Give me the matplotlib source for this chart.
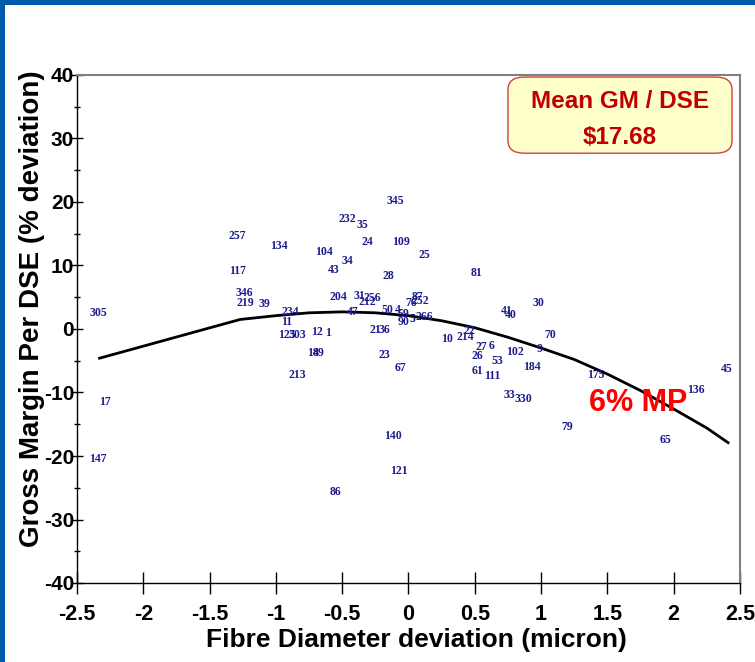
import matplotlib
matplotlib.use("Agg")
import matplotlib.pyplot as plt
from matplotlib.patches import Rectangle, FancyBboxPatch

plt.rcParams["axes.unicode_minus"] = False

# ---- data ----
labels = ["305", "17", "147", "257", "134", "117", "346", "219", "39", "234",
          "11", "125", "303", "12", "1", "18", "49", "213", "345", "232",
          "35", "24", "109", "104", "34", "43", "25", "28", "81", "204",
          "31", "256", "212", "47", "50", "4", "59", "90", "5", "76",
          "87", "252", "266", "21", "36", "23", "67", "10", "214", "22",
          "27", "6", "26", "53", "102", "61", "111", "41", "40", "30",
          "70", "9", "184", "33", "330", "175", "79", "45", "136", "65",
          "140", "121", "86"]
fd_dev = [-2.34, -2.29, -2.34, -1.29, -0.98, -1.29, -1.24, -1.23, -1.09, -0.89,
          -0.92, -0.92, -0.84, -0.69, -0.61, -0.72, -0.68, -0.84, -0.10, -0.46,
          -0.35, -0.31, -0.06, -0.64, -0.46, -0.56, 0.12, -0.15, 0.51, -0.53,
          -0.37, -0.27, -0.31, -0.42, -0.16, -0.08, -0.04, -0.04, 0.03, 0.02,
          0.07, 0.09, 0.12, -0.25, -0.18, -0.18, -0.06, 0.29, 0.43, 0.46,
          0.55, 0.63, 0.52, 0.67, 0.80, 0.52, 0.63, 0.74, 0.77, 0.98,
          1.07, 0.99, 0.93, 0.76, 0.87, 1.41, 1.20, 2.40, 2.17, 1.94,
          -0.12, -0.07, -0.55]
gm_dev = [2.5, -11.5, -20.5, 14.7, 13.1, 9.2, 5.7, 4.1, 3.9, 2.7,
          1.1, -0.9, -0.9, -0.5, -0.6, -3.8, -3.8, -7.3, 20.2, 17.4,
          16.3, 13.7, 13.7, 12.2, 10.7, 9.3, 11.7, 8.4, 8.8, 5.1,
          5.2, 4.9, 4.3, 2.7, 3.0, 3.0, 2.4, 1.1, 1.6, 4.1,
          5.1, 4.4, 1.9, -0.2, -0.2, -4.1, -6.2, -1.6, -1.3, -0.3,
          -2.8, -2.7, -4.3, -5.1, -3.6, -6.6, -7.4, 2.8, 2.2, 4.1,
          -0.9, -3.2, -6.0, -10.4, -11.1, -7.3, -15.5, -6.3, -9.6, -17.5,
          -16.9, -22.4, -25.6]

curve_x = [-2.33, -1.27, -1.0, -0.75, -0.5, -0.25, 0.0, 0.25, 0.5, 0.75,
           1.0, 1.25, 1.5, 1.75, 2.0, 2.25, 2.41]
curve_y = [-4.6, 1.5, 2.1, 2.55, 2.7, 2.55, 2.1, 1.3, 0.2, -1.3,
           -3.0, -4.8, -7.1, -9.7, -12.6, -15.6, -17.9]

x_ticks = [-2.5, -2, -1.5, -1, -0.5, 0, 0.5, 1, 1.5, 2, 2.5]
x_tick_labels = ["-2.5", "-2", "-1.5", "-1", "-0.5", "0", "0.5", "1", "1.5", "2", "2.5"]
y_ticks = [-40, -30, -20, -10, 0, 10, 20, 30, 40]

# ---- figure ----
W, H = 755, 662
fig = plt.figure(figsize=(W / 100, H / 100), dpi=100)
fig.patch.set_facecolor("white")

# blue frame
fig.add_artist(Rectangle((0, 1 - 5 / H), 1, 5 / H, transform=fig.transFigure,
                         facecolor="#005BAC", edgecolor="none"))
fig.add_artist(Rectangle((0, 0), 5 / W, 1, transform=fig.transFigure,
                         facecolor="#005BAC", edgecolor="none"))

ax = fig.add_axes([77 / W, (H - 583) / H, (740 - 77) / W, (583 - 75) / H])
ax.set_xlim(-2.5, 2.5)
ax.set_ylim(-40, 40)

for s in ["top", "right"]:
    ax.spines[s].set_color("#808080")
    ax.spines[s].set_linewidth(1.5)
for s in ["left", "bottom"]:
    ax.spines[s].set_color("black")
    ax.spines[s].set_linewidth(1.0)

ax.set_xticks(x_ticks)
ax.set_xticklabels(x_tick_labels)
ax.set_yticks(y_ticks)
ax.set_yticks([-35, -25, -15, -5, 5, 15, 25, 35], minor=True)
ax.tick_params(axis="x", direction="inout", length=16, width=1, pad=7,
               labelsize=15.5, top=False)
ax.tick_params(axis="y", which="major", direction="inout", length=8, width=1,
               pad=-2, labelsize=15, right=False)
ax.tick_params(axis="y", which="minor", direction="inout", length=4, width=1,
               right=False)
for lab in ax.get_xticklabels() + ax.get_yticklabels():
    lab.set_fontfamily("Liberation Sans")
    lab.set_fontweight("bold")

fig.text(416 / W, 1 - 640 / H, "Fibre Diameter deviation (micron)",
         ha="center", va="center", fontsize=19, fontweight="bold",
         fontfamily="Liberation Sans")
fig.text(32 / W, 1 - 309 / H, "Gross Margin Per DSE (% deviation)",
         ha="center", va="center", rotation=90, fontsize=20,
         fontweight="bold", fontfamily="Liberation Sans")

# curve
ax.plot(curve_x, curve_y, color="black", linewidth=2.0, zorder=2)

# point labels
for lab, xv, yv in zip(labels, fd_dev, gm_dev):
    ax.text(xv, yv, lab, ha="center", va="center", fontsize=8.5,
            fontweight="bold", fontfamily="Liberation Serif",
            color="#1C1C8C", zorder=3)

# 6% MP annotation
ax.text(1.73, -11.7, "6% MP", ha="center", va="center", fontsize=22,
        fontweight="bold", fontfamily="Liberation Sans", color="#FF0000",
        zorder=4)

# Mean GM box
box = FancyBboxPatch((0.650, 0.846), 0.338, 0.150,
                     boxstyle="round,pad=0,rounding_size=0.025",
                     transform=ax.transAxes, facecolor="#FFFFCC",
                     edgecolor="#D04040", linewidth=1.0, zorder=5)
ax.add_patch(box)
ax.text(0.819, 0.947, "Mean GM / DSE", transform=ax.transAxes, ha="center",
        va="center", fontsize=17.5, fontweight="bold",
        fontfamily="Liberation Sans", color="#C00000", zorder=6)
ax.text(0.819, 0.876, "\\$17.68", transform=ax.transAxes, ha="center",
        va="center", fontsize=17.5, fontweight="bold",
        fontfamily="Liberation Sans", color="#C00000", zorder=6)

fig.savefig("out.png", dpi=100)
